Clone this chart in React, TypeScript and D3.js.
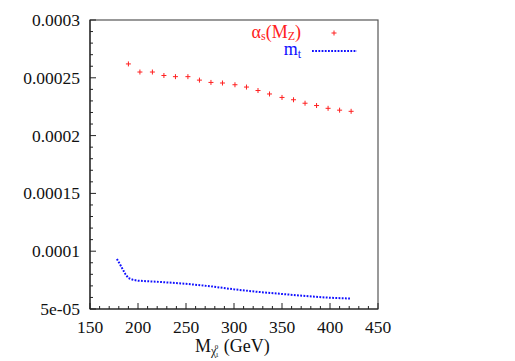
import React from "react";
import * as d3 from "d3";

// neutralino mass (GeV) for the alpha_s points
const massGrid = [190, 202, 215, 227, 239, 252, 264, 276, 288, 301, 313, 325, 337, 350, 362, 374, 386, 398, 410, 422];
const alphaS = [
  0.000262, 0.000255, 0.000255, 0.000252, 0.000251, 0.000251, 0.000248, 0.000246, 0.0002455, 0.000244,
  0.000242, 0.000239, 0.000236, 0.000233, 0.000231, 0.000228, 0.000226, 0.0002236, 0.000222, 0.000221,
];
// m_t curve
const mtMass = [178, 181, 184, 187, 190, 195, 200, 225, 250, 275, 300, 325, 350, 375, 400, 422];
const mtVals = [
  0.0000932, 0.000089, 0.0000845, 0.00008, 0.0000768, 0.0000752, 0.0000745, 0.0000733, 0.0000718,
  0.0000697, 0.000067, 0.0000648, 0.000063, 0.0000612, 0.0000597, 0.000059,
];
const xTicks = [150, 200, 250, 300, 350, 400, 450];
const yTicks = [0.00005, 0.0001, 0.00015, 0.0002, 0.00025, 0.0003];
const yTickLabels = ["5e-05", "0.0001", "0.00015", "0.0002", "0.00025", "0.0003"];

const W = 515, H = 361;
const L = 90, R = 378, T = 20, B = 309;
const serif = { fontFamily: "'Liberation Serif', 'DejaVu Serif', serif" };

export default function App() {
  const x = d3.scaleLinear().domain([150, 450]).range([L, R]);
  const y = d3.scaleLinear().domain([0.00005, 0.0003]).range([B, T]);
  const xMinor = d3.range(150, 451, 10);
  const yMinor = d3.range(0, 26).map((i) => 0.00005 + i * 0.00001);
  const line = d3.line<number>().x((d, i) => x(mtMass[i])).y((d) => y(d));

  return (
    <svg width={W} height={H} style={{ position: "absolute", left: 0, top: 0, background: "#fff" }}>
      <rect x={L} y={T} width={R - L} height={B - T} fill="none" stroke="#555" strokeWidth={1.2} />
      <line x1={L} x2={L} y1={T} y2={B} stroke="#222" strokeWidth={1.2} />
      <line x1={L} x2={R} y1={B} y2={B} stroke="#222" strokeWidth={1.2} />
      {xMinor.map((v) => {
        const major = xTicks.includes(v);
        return <line key={"xm" + v} x1={x(v)} x2={x(v)} y1={B} y2={B - (major ? 6 : 3)} stroke="#222" strokeWidth={1} />;
      })}
      {yMinor.map((v, i) => {
        const major = i % 5 === 0;
        return <line key={"ym" + i} x1={L} x2={L + (major ? 6 : 3)} y1={y(v)} y2={y(v)} stroke="#222" strokeWidth={1} />;
      })}
      {xTicks.map((v) => (
        <text key={"xt" + v} x={x(v)} y={B + 24} textAnchor="middle" fontSize={17.5} fill="#111" style={serif}>{v}</text>
      ))}
      {yTicks.map((v, i) => (
        <text key={"yt" + v} x={L - 10} y={y(v) + 6} textAnchor="end" fontSize={17.5} fill="#111" style={serif}>{yTickLabels[i]}</text>
      ))}

      {/* x axis title */}
      <text x={195} y={352} fontSize={18} fill="#111" style={serif}>
        M
        <tspan fontSize={12} dy={3}>χ</tspan>
        <tspan fontSize={7} dy={2} dx={-1}>1</tspan>
        <tspan fontSize={7} dy={-8} dx={-4}>0</tspan>
        <tspan dy={3} dx={1}> (GeV)</tspan>
      </text>

      {/* alpha_s markers */}
      {massGrid.map((m, i) => (
        <g key={"p" + i} transform={`translate(${x(m)},${y(alphaS[i])})`} stroke="#ff2020" strokeWidth={1}>
          <line x1={-2.5} x2={2.5} y1={0} y2={0} />
          <line x1={0} x2={0} y1={-2.5} y2={2.5} />
        </g>
      ))}

      {/* m_t dotted curve */}
      <path d={line(mtVals) || ""} fill="none" stroke="#1010ff" strokeWidth={2} strokeDasharray="1.8 1.4" />

      {/* legend */}
      <text x={301} y={38} textAnchor="end" fontSize={18} fill="#ff2020" style={serif}>
        α<tspan fontSize={12} dy={2}>s</tspan><tspan dy={-2}>(M</tspan><tspan fontSize={12} dy={2}>Z</tspan><tspan dy={-2}>)</tspan>
      </text>
      <g transform="translate(334,33)" stroke="#ff2020" strokeWidth={1}>
        <line x1={-2.5} x2={2.5} y1={0} y2={0} />
        <line x1={0} x2={0} y1={-2.5} y2={2.5} />
      </g>
      <text x={301} y={55} textAnchor="end" fontSize={18} fill="#1010ff" style={serif}>
        m<tspan fontSize={12} dy={3}>t</tspan>
      </text>
      <line x1={312} x2={357} y1={51} y2={51} stroke="#1010ff" strokeWidth={2} strokeDasharray="1.8 1.4" />
    </svg>
  );
}
